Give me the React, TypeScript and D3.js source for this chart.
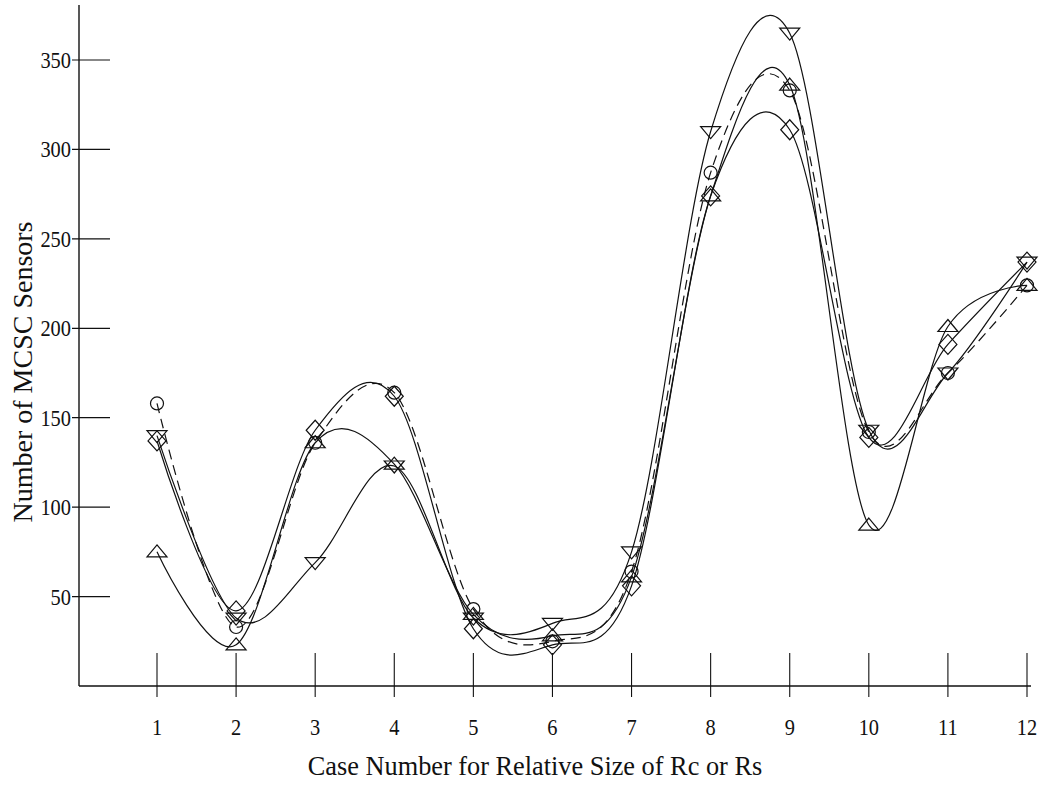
import React from "react";
import * as d3 from "d3";

const cases = [1, 2, 3, 4, 5, 6, 7, 8, 9, 10, 11, 12];
const circleVals = [158, 33, 136, 164, 43, 25, 64, 287, 333, 142, 175, 224];
const diamondVals = [137, 42, 143, 162, 32, 23, 56, 274, 311, 139, 191, 237];
const triUpVals = [75, 23, 136, 124, 40, 28, 61, 274, 336, 90, 201, 224];
const triDownVals = [140, 38, 69, 123, 38, 35, 75, 310, 365, 143, 175, 237];
const yTicks = [50, 100, 150, 200, 250, 300, 350];

const W = 1052;
const H = 785;
const font = "'Liberation Serif', 'Times New Roman', serif";

type Series = { name: string; values: number[]; dashed: boolean; marker: string };

const series: Series[] = [
  { name: "circle", values: circleVals, dashed: true, marker: "circle" },
  { name: "diamond", values: diamondVals, dashed: false, marker: "diamond" },
  { name: "triUp", values: triUpVals, dashed: false, marker: "triUp" },
  { name: "triDown", values: triDownVals, dashed: false, marker: "triDown" },
];

const App: React.FC = () => {
  const x = d3.scaleLinear().domain([1, 12]).range([157, 1027]);
  const y = d3.scaleLinear().domain([0, 350]).range([686, 60]);

  // smooth curve through each case value
  const line = d3
    .line<number>()
    .x((_, i) => x(cases[i]))
    .y((d) => y(d))
    .curve(d3.curveCardinal.tension(0));

  const drawMarker = (kind: string, cx: number, cy: number, key: string) => {
    const common = { fill: "none", stroke: "#111", strokeWidth: 1.2 };
    if (kind === "circle") return <circle key={key} cx={cx} cy={cy} r={6.5} {...common} />;
    if (kind === "diamond")
      return (
        <path
          key={key}
          d={`M${cx},${cy - 10} L${cx + 9},${cy} L${cx},${cy + 10} L${cx - 9},${cy} Z`}
          {...common}
        />
      );
    if (kind === "triUp")
      return (
        <path
          key={key}
          d={`M${cx},${cy - 7} L${cx + 10},${cy + 5} L${cx - 10},${cy + 5} Z`}
          {...common}
        />
      );
    return (
      <path
        key={key}
        d={`M${cx},${cy + 7} L${cx + 10},${cy - 5} L${cx - 10},${cy - 5} Z`}
        {...common}
      />
    );
  };

  const x0 = 79;
  const yBase = y(0);

  return (
    <div style={{ position: "absolute", left: 0, top: 0 }}>
      <svg width={W} height={H} style={{ display: "block", background: "#fff" }}>
        {/* axes */}
        <line x1={x0} x2={x0} y1={5} y2={yBase} stroke="#111" strokeWidth={1.4} />
        <line x1={x0} x2={1031} y1={yBase} y2={yBase} stroke="#111" strokeWidth={1.4} />

        {yTicks.map((t) => (
          <g key={"y" + t}>
            <line x1={72} x2={110} y1={y(t)} y2={y(t)} stroke="#111" strokeWidth={1.2} />
            <text
              transform={`translate(71,${y(t) + 8}) scale(0.85,1)`}
              textAnchor="end"
              fontFamily={font}
              fontSize={24}
              fill="#111"
            >
              {t}
            </text>
          </g>
        ))}

        {cases.map((c) => (
          <g key={"x" + c}>
            <line x1={x(c)} x2={x(c)} y1={653} y2={697} stroke="#111" strokeWidth={1.1} />
            <text
              transform={`translate(${x(c)},${735}) scale(0.85,1)`}
              textAnchor="middle"
              fontFamily={font}
              fontSize={24}
              fill="#111"
            >
              {c}
            </text>
          </g>
        ))}

        {/* curves */}
        {series.map((s) => (
          <path
            key={s.name}
            d={line(s.values) || ""}
            fill="none"
            stroke="#111"
            strokeWidth={1.2}
            strokeDasharray={s.dashed ? "10,6" : undefined}
          />
        ))}

        {/* markers */}
        {series.map((s) =>
          s.values.map((v, i) => drawMarker(s.marker, x(cases[i]), y(v), s.name + i))
        )}

        {/* titles */}
        <text
          transform={`translate(535,775) scale(0.94,1)`}
          textAnchor="middle"
          fontFamily={font}
          fontSize={28}
          fill="#111"
        >
          Case Number for Relative Size of Rc or Rs
        </text>
        <text
          transform={`translate(32,372) rotate(-90)`}
          textAnchor="middle"
          fontFamily={font}
          fontSize={28}
          fill="#111"
        >
          Number of MCSC Sensors
        </text>
      </svg>
    </div>
  );
};

export default App;
